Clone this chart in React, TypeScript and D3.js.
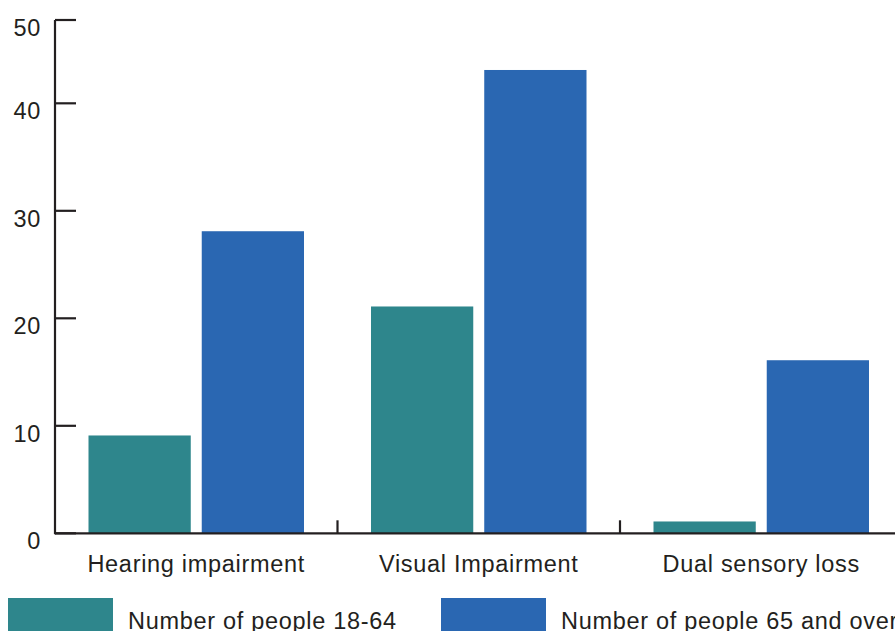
import React from "react";
import * as d3 from "d3";

const categories = ["Hearing impairment", "Visual Impairment", "Dual sensory loss"];
const seriesNames = ["Number of people 18-64", "Number of people 65 and over"];
const age18to64 = [9.1, 21.1, 1.1];
const age65plus = [28.1, 43.1, 16.1];
const yTickValues = [0, 10, 20, 30, 40, 47.75];
const yTickLabels = ["0", "10", "20", "30", "40", "50"];

const W = 895;
const H = 631;
const colors = ["#2E868C", "#2A67B2"];
const ink = "#231F20";
const font = "'Liberation Sans', Arial, sans-serif";
const fs = 23.5;
const ls = 0.7;

export default function App() {
  const x0 = 55;
  const y0 = 533.3;
  const yTop = 20;
  const bandW = 282.5;
  const y = d3.scaleLinear().domain([0, 47.75]).range([y0, yTop]);
  const x = d3
    .scaleBand<string>()
    .domain(categories)
    .range([x0, x0 + bandW * categories.length])
    .padding(0);
  const xi = d3
    .scaleBand<string>()
    .domain(seriesNames)
    .range([33.5, bandW - 33.5])
    .paddingInner(0.097)
    .paddingOuter(0);
  const series = [age18to64, age65plus];

  return (
    <svg
      width={W}
      height={H}
      style={{ position: "absolute", left: 0, top: 0, background: "#fff" }}
      fontFamily={font}
    >
      {categories.map((c, ci) =>
        seriesNames.map((s, si) => {
          const v = series[si][ci];
          return (
            <rect
              key={c + s}
              x={(x(c) as number) + (xi(s) as number)}
              y={y(v)}
              width={xi.bandwidth()}
              height={y0 - y(v)}
              fill={colors[si]}
            />
          );
        })
      )}
      <line x1={x0} x2={x0} y1={yTop} y2={y0 + 1} stroke={ink} strokeWidth={2.2} />
      {yTickValues.map((t, i) => (
        <g key={t}>
          <line x1={x0} x2={x0 + 21} y1={y(t)} y2={y(t)} stroke={ink} strokeWidth={2.2} />
          <text
            x={41}
            y={y(t) + 16}
            textAnchor="end"
            fontSize={fs}
            letterSpacing={ls}
            fill={ink}
          >
            {yTickLabels[i]}
          </text>
        </g>
      ))}
      <line x1={x0} x2={W} y1={y0} y2={y0} stroke={ink} strokeWidth={2.2} />
      {categories.slice(1).map((c) => (
        <line
          key={c}
          x1={x(c) as number}
          x2={x(c) as number}
          y1={y0}
          y2={y0 - 13}
          stroke={ink}
          strokeWidth={2.2}
        />
      ))}
      {categories.map((c) => (
        <text
          key={c}
          x={(x(c) as number) + x.bandwidth() / 2}
          y={572}
          textAnchor="middle"
          fontSize={fs}
          letterSpacing={ls}
          fill={ink}
        >
          {c}
        </text>
      ))}
      {seriesNames.map((s, i) => {
        const lx = i === 0 ? 8 : 441;
        return (
          <g key={s}>
            <rect x={lx} y={598} width={105} height={40} fill={colors[i]} />
            <text x={lx + 120} y={629} fontSize={fs} letterSpacing={ls} fill={ink}>
              {s}
            </text>
          </g>
        );
      })}
    </svg>
  );
}
